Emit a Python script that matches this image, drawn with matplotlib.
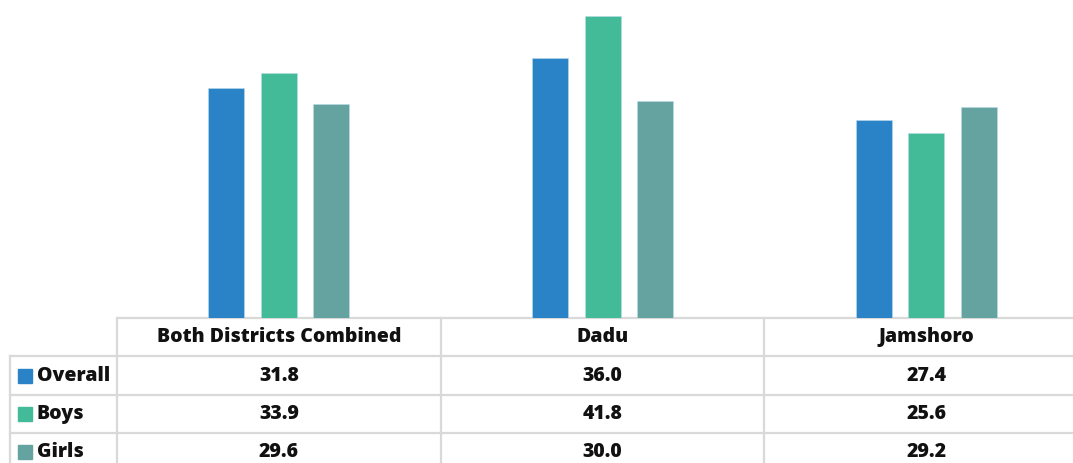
import numpy as np
import matplotlib.pyplot as plt

categories = ["Both Districts Combined", "Dadu", "Jamshoro"]
series = ["Overall", "Boys", "Girls"]
overall = [31.8, 36.0, 27.4]
boys = [33.9, 41.8, 25.6]
girls = [29.6, 30.0, 29.2]
colors = ["#2a83c6", "#43bb98", "#64a39f"]

plt.rcParams['font.family'] = ['Open Sans', 'DejaVu Sans']

W, H = 1073, 463
fig = plt.figure(figsize=(W / 100, H / 100), dpi=100)

# table grid in pixel coords (drawn on a full-figure axes)
tab = fig.add_axes([0, 0, 1, 1])
tab.set_xlim(0, W)
tab.set_ylim(H, 0)
tab.axis("off")

plot_left, base_y = 117, 318
row_h = 38
cat_w = 323.7  # the original chart runs past the right edge
ax = fig.add_axes([plot_left / W, (H - base_y) / H, 3 * cat_w / W, base_y / H])
ax.set_xlim(-0.5, len(categories) - 0.5)
ax.set_ylim(0, 44)
ax.axis("off")

x = np.arange(len(categories))
width = 0.111
step = 0.162
for i, (vals, c) in enumerate(zip([overall, boys, girls], colors)):
    ax.bar(x + (i - 1) * step, vals, width, color=c, edgecolor="#b8dbe8", linewidth=0.4)

grid = "#d9d9d9"
lw = 1.6
left_col = 10
# horizontal lines
tab.plot([plot_left, W], [base_y, base_y], color=grid, lw=lw)
for r in range(1, 4):
    y = base_y + r * row_h + (1 if r > 1 else 0)
    tab.plot([left_col, W], [y, y], color=grid, lw=lw)
# vertical lines
tab.plot([left_col, left_col], [base_y + row_h, H], color=grid, lw=lw)
for k in range(len(categories)):
    xv = plot_left + k * cat_w
    tab.plot([xv, xv], [base_y, H], color=grid, lw=lw)

fs = 14
txt = dict(fontsize=fs, fontweight="heavy", color="#111111")
# header text
for k, cat in enumerate(categories):
    cx = plot_left + (k + 0.5) * cat_w
    tab.text(cx, base_y + row_h / 2, cat, ha="center", va="center", **txt)

# rows
for r, (name, vals, c) in enumerate(zip(series, [overall, boys, girls], colors)):
    cy = base_y + (r + 1.5) * row_h + 1
    tab.add_patch(plt.Rectangle((18, cy - 7), 14, 14, color=c))
    tab.text(37, cy, name, ha="left", va="center", **txt)
    for k, v in enumerate(vals):
        cx = plot_left + (k + 0.5) * cat_w
        tab.text(cx, cy, f"{v:.1f}", ha="center", va="center", **txt)

fig.savefig("out.png", dpi=100)
